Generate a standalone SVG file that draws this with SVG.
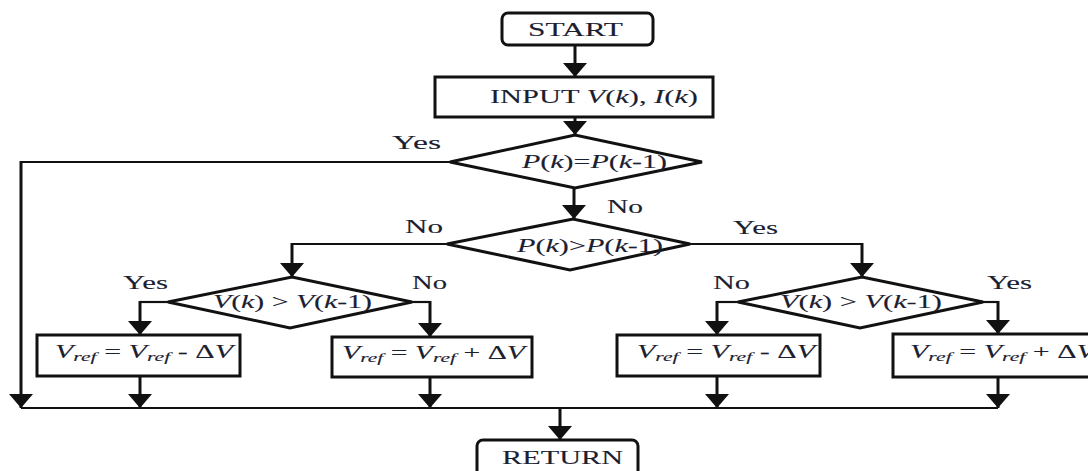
<svg xmlns="http://www.w3.org/2000/svg" width="1088" height="471" viewBox="0 0 1088 471">
<defs>
<style>
.box{fill:#fff;stroke:#111;stroke-width:3}
.ln{fill:none;stroke:#111;stroke-width:2.2}
.vl{fill:none;stroke:#111;stroke-width:3}
text{font-family:"Liberation Serif","Times New Roman",serif;fill:#1b2030;stroke:#1b2030;stroke-width:0.1}
.t{font-size:19px}
.lb{font-size:18px}
.m{font-size:18px}
.i{font-style:italic}
.s{font-size:13px;font-style:italic}
</style>
<marker id="ah" viewBox="0 0 14 24" refX="14" refY="12" markerWidth="14" markerHeight="24" markerUnits="userSpaceOnUse" orient="auto">
<path d="M0,0 L14,12 L0,24 z" fill="#111"/>
</marker>
</defs>
<rect width="1088" height="471" fill="#fff"/>

<g id="connectors">
<path class="vl" d="M575,45 V77" marker-end="url(#ah)"/>
<path class="vl" d="M575,117 V135" marker-end="url(#ah)"/>
<path class="ln" d="M450,162 H21"/>
<path class="vl" d="M21,161 V408" marker-end="url(#ah)"/>
<path class="vl" d="M574,188 V219" marker-end="url(#ah)"/>
<path class="ln" d="M447,244 H292"/>
<path class="vl" d="M292,243 V277" marker-end="url(#ah)"/>
<path class="ln" d="M690,244 H862"/>
<path class="vl" d="M862,243 V277" marker-end="url(#ah)"/>
<path class="ln" d="M168,302 H140"/>
<path class="vl" d="M140,301 V335" marker-end="url(#ah)"/>
<path class="ln" d="M412,302 H430"/>
<path class="vl" d="M430,301 V337" marker-end="url(#ah)"/>
<path class="ln" d="M738,302 H717"/>
<path class="vl" d="M717,301 V335" marker-end="url(#ah)"/>
<path class="ln" d="M983,302 H998"/>
<path class="vl" d="M998,301 V334" marker-end="url(#ah)"/>
<path class="vl" d="M140,376 V408" marker-end="url(#ah)"/>
<path class="vl" d="M430,377 V408" marker-end="url(#ah)"/>
<path class="vl" d="M717,376 V408" marker-end="url(#ah)"/>
<path class="vl" d="M998,377 V408" marker-end="url(#ah)"/>
<path class="ln" d="M21,408 H998"/>
<path class="vl" d="M560,408 V440" marker-end="url(#ah)"/>
</g>

<g id="start">
<rect class="box" x="502" y="13" width="151" height="32" rx="6"/>
<text class="t" x="528" y="36" textLength="95" lengthAdjust="spacingAndGlyphs">START</text>
</g>

<g id="input">
<rect class="box" x="435" y="77" width="278" height="40"/>
<text class="t" x="490" y="103" textLength="208" lengthAdjust="spacingAndGlyphs">INPUT <tspan class="i">V</tspan>(<tspan class="i">k</tspan>), <tspan class="i">I</tspan>(<tspan class="i">k</tspan>)</text>
</g>

<g id="dec1">
<polygon class="box" points="450,162 575,135 702,162 575,188"/>
<text class="m" x="522" y="168" textLength="145" lengthAdjust="spacingAndGlyphs"><tspan class="i">P</tspan>(<tspan class="i">k</tspan>)=<tspan class="i">P</tspan>(<tspan class="i">k</tspan>-1)</text>
</g>

<g id="dec2">
<polygon class="box" points="447,244 573,219 690,244 570,270"/>
<text class="m" x="517" y="252" textLength="146" lengthAdjust="spacingAndGlyphs"><tspan class="i">P</tspan>(<tspan class="i">k</tspan>)&gt;<tspan class="i">P</tspan>(<tspan class="i">k</tspan>-1)</text>
</g>

<g id="dec3">
<polygon class="box" points="168,302 292,277 412,302 290,328"/>
<text class="m" x="213" y="308" textLength="159" lengthAdjust="spacingAndGlyphs"><tspan class="i">V</tspan>(<tspan class="i">k</tspan>) &gt; <tspan class="i">V</tspan>(<tspan class="i">k</tspan>-1)</text>
</g>

<g id="dec4">
<polygon class="box" points="738,302 862,277 983,302 860,328"/>
<text class="m" x="780" y="308" textLength="162" lengthAdjust="spacingAndGlyphs"><tspan class="i">V</tspan>(<tspan class="i">k</tspan>) &gt; <tspan class="i">V</tspan>(<tspan class="i">k</tspan>-1)</text>
</g>

<g id="box1">
<rect class="box" x="37" y="335" width="203" height="41"/>
<text class="m" x="55" y="358" textLength="178" lengthAdjust="spacingAndGlyphs"><tspan class="i">V</tspan><tspan class="s" dy="3">ref</tspan><tspan dy="-3"> = </tspan><tspan class="i">V</tspan><tspan class="s" dy="3">ref</tspan><tspan dy="-3"> - Δ</tspan><tspan class="i">V</tspan></text>
</g>

<g id="box2">
<rect class="box" x="332" y="337" width="200" height="40"/>
<text class="m" x="342" y="359" textLength="183" lengthAdjust="spacingAndGlyphs"><tspan class="i">V</tspan><tspan class="s" dy="3">ref</tspan><tspan dy="-3"> = </tspan><tspan class="i">V</tspan><tspan class="s" dy="3">ref</tspan><tspan dy="-3"> + Δ</tspan><tspan class="i">V</tspan></text>
</g>

<g id="box3">
<rect class="box" x="617" y="335" width="203" height="41"/>
<text class="m" x="637" y="358" textLength="178" lengthAdjust="spacingAndGlyphs"><tspan class="i">V</tspan><tspan class="s" dy="3">ref</tspan><tspan dy="-3"> = </tspan><tspan class="i">V</tspan><tspan class="s" dy="3">ref</tspan><tspan dy="-3"> - Δ</tspan><tspan class="i">V</tspan></text>
</g>

<g id="box4">
<rect class="box" x="893" y="334" width="220" height="43"/>
<text class="m" x="910" y="358" textLength="185" lengthAdjust="spacingAndGlyphs"><tspan class="i">V</tspan><tspan class="s" dy="3">ref</tspan><tspan dy="-3"> = </tspan><tspan class="i">V</tspan><tspan class="s" dy="3">ref</tspan><tspan dy="-3"> + Δ</tspan><tspan class="i">V</tspan></text>
</g>

<g id="return">
<rect class="box" x="477" y="440" width="161" height="40" rx="6"/>
<text class="t" x="502" y="464" textLength="121" lengthAdjust="spacingAndGlyphs">RETURN</text>
</g>

<g id="labels">
<text class="lb" x="392" y="149" textLength="49" lengthAdjust="spacingAndGlyphs">Yes</text>
<text class="lb" x="607" y="213" textLength="36" lengthAdjust="spacingAndGlyphs">No</text>
<text class="lb" x="405" y="233" textLength="38" lengthAdjust="spacingAndGlyphs">No</text>
<text class="lb" x="733" y="234" textLength="45" lengthAdjust="spacingAndGlyphs">Yes</text>
<text class="lb" x="123" y="289" textLength="45" lengthAdjust="spacingAndGlyphs">Yes</text>
<text class="lb" x="412" y="289" textLength="35" lengthAdjust="spacingAndGlyphs">No</text>
<text class="lb" x="713" y="289" textLength="37" lengthAdjust="spacingAndGlyphs">No</text>
<text class="lb" x="987" y="289" textLength="45" lengthAdjust="spacingAndGlyphs">Yes</text>
</g>
</svg>
